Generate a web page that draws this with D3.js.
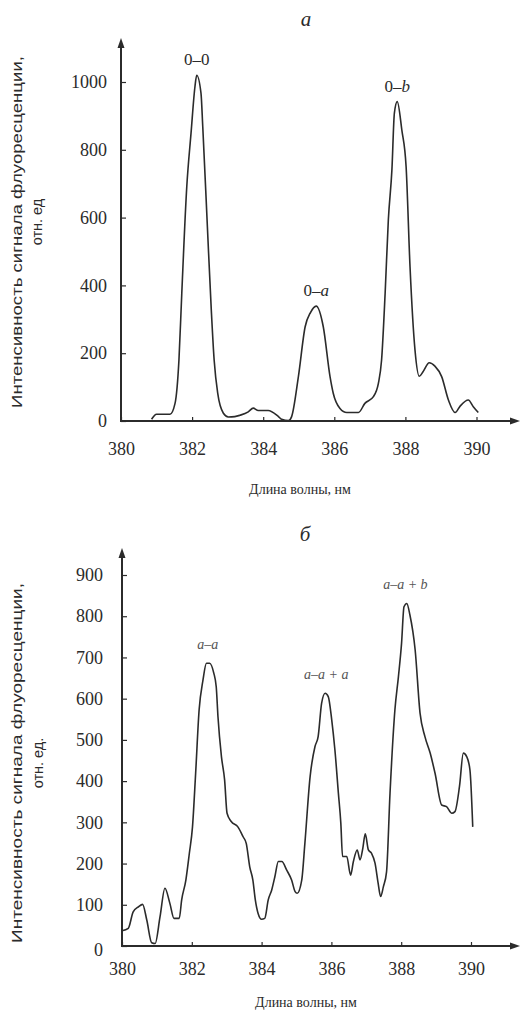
<!DOCTYPE html>
<html><head><meta charset="utf-8">
<script src="https://cdn.jsdelivr.net/npm/d3@7"></script>
<style>
html,body{margin:0;padding:0;background:#fff;}
svg{display:block;}
.serif{font-family:"Liberation Serif","Times New Roman","DejaVu Serif",serif;}
.sans{font-family:"Liberation Sans",Arial,"DejaVu Sans",sans-serif;}
</style></head>
<body>
<svg id="chart" width="521" height="1011"></svg>
<script>
// ---------- DATA ----------
const xTicks = [380, 382, 384, 386, 388, 390];
const topYTicks = [0, 200, 400, 600, 800, 1000];
const botYTicks = [0, 100, 200, 300, 400, 500, 600, 700, 800, 900];

// Panel a (top)
const topX = [380.86,381.0,381.38,381.52,381.63,381.71,381.85,381.97,382.08,382.13,382.25,382.30,382.43,382.54,382.62,382.72,382.88,383.02,383.2,383.35,383.58,383.72,383.86,384.14,384.43,384.52,384.71,384.8,384.99,385.18,385.33,385.49,385.69,385.88,385.97,386.16,386.35,386.68,386.86,387.1,387.24,387.33,387.43,387.52,387.62,387.69,387.77,387.9,388.02,388.13,388.27,388.39,388.5,388.67,388.83,389.02,389.21,389.4,389.54,389.77,389.91,390.05];
const topY = [5,20,20,52,180,377,691,849,986,1020,967,868,573,327,180,82,23,12,13,17,27,38,31,31,13,5,1,13,131,278,320,339,278,131,82,37,25,25,52,72,111,180,377,593,740,908,942,858,750,455,209,132,146,172,162,131,62,25,44,62,42,25];

// Panel б (bottom)
const botX = [380.0,380.18,380.32,380.47,380.59,380.71,380.85,380.95,381.09,381.23,381.37,381.49,381.64,381.71,381.83,381.93,382.02,382.11,382.21,382.32,382.42,382.51,382.63,382.7,382.75,382.85,382.94,383.01,383.13,383.32,383.47,383.56,383.66,383.75,383.82,383.9,384.0,384.09,384.19,384.29,384.38,384.48,384.58,384.72,384.86,384.96,385.02,385.15,385.24,385.39,385.53,385.62,385.72,385.82,385.91,386.01,386.1,386.2,386.27,386.32,386.44,386.55,386.63,386.74,386.82,386.9,386.97,387.06,387.15,387.25,387.34,387.41,387.49,387.58,387.68,387.82,387.92,388.01,388.08,388.16,388.25,388.4,388.54,388.68,388.83,388.97,389.16,389.3,389.45,389.54,389.67,389.78,389.88,389.97,390.05];
const botY = [37,43,83,95,101,63,8,6,71,140,104,67,67,112,160,225,289,419,573,645,686,686,662,629,556,459,403,322,302,289,265,249,192,160,112,79,65,67,112,136,168,205,205,184,160,132,128,160,249,411,484,508,589,613,605,548,476,371,298,217,217,172,205,233,209,237,272,233,225,201,152,120,144,180,371,573,653,734,823,831,803,718,565,508,468,419,342,338,322,326,387,468,459,427,289];

const panelTitles = ["а", "б"];
const xTitle = "Длина волны, нм";
const yTitleLine1 = "Интенсивность сигнала флуоресценции,";
const yTitleLine2 = ["отн. ед", "отн. ед."];
const topPeakLabels = [
  {pre: "0–", it: "", post: "0", x: 382.13, y: 1020},
  {pre: "0–", it: "a", post: "", x: 385.49, y: 339},
  {pre: "0–", it: "b", post: "", x: 387.77, y: 942}
];
const botPeakLabels = [
  {text: "a–a", x: 382.46, y: 686},
  {text: "a–a + a", x: 385.85, y: 613},
  {text: "a–a + b", x: 388.12, y: 831}
];

// ---------- DRAW ----------
const svg = d3.select("#chart");
const ink = "#2b2b2b";

function panel(cfg) {
  const x = d3.scaleLinear().domain([380, 390]).range(cfg.xr);
  const y = d3.scaleLinear().domain(cfg.yd).range(cfg.yr);
  const g = svg.append("g");

  const x0 = x(380), y0 = y(0);
  g.append("line").attr("x1", x0).attr("y1", y0 + 1).attr("x2", x0).attr("y2", cfg.arrowTop + 6)
    .attr("stroke", ink).attr("stroke-width", 2);
  g.append("path").attr("d", `M${x0},${cfg.arrowTop} L${x0 - 3.5},${cfg.arrowTop + 10} L${x0 + 3.5},${cfg.arrowTop + 10} Z`).attr("fill", ink);
  g.append("line").attr("x1", x0 - 1).attr("y1", y0).attr("x2", cfg.arrowRight - 6).attr("y2", y0)
    .attr("stroke", ink).attr("stroke-width", 2);
  g.append("path").attr("d", `M${cfg.arrowRight},${y0} L${cfg.arrowRight - 10},${y0 - 3.5} L${cfg.arrowRight - 10},${y0 + 3.5} Z`).attr("fill", ink);

  const ya = g.append("g").attr("transform", `translate(${x0},0)`)
    .call(d3.axisLeft(y).tickValues(cfg.yTicks).tickSizeInner(-5).tickSizeOuter(0).tickPadding(cfg.yPad).tickFormat(d3.format("d")));
  ya.attr("font-family", null);
  ya.select(".domain").remove();
  ya.selectAll("line").attr("stroke", ink).attr("stroke-width", 1.2);
  ya.selectAll("text").attr("class", "serif").attr("font-size", 18).attr("fill", ink)
    .attr("dy", d => d === 0 ? cfg.zeroDy : "0.32em");

  const xa = g.append("g").attr("transform", `translate(0,${y0})`)
    .call(d3.axisBottom(x).tickValues(xTicks).tickSizeInner(-4).tickSizeOuter(0).tickPadding(cfg.xPad).tickFormat(d3.format("d")));
  xa.attr("font-family", null);
  xa.select(".domain").remove();
  xa.selectAll("line").attr("stroke", ink).attr("stroke-width", 1.2);
  xa.selectAll("text").attr("class", "serif").attr("font-size", 18).attr("fill", ink);

  const line = d3.line().x((d, i) => x(cfg.xs[i])).y(d => y(d)).curve(d3.curveMonotoneX);
  g.append("path").datum(cfg.ys).attr("d", line).attr("fill", "none")
    .attr("stroke", ink).attr("stroke-width", 1.6).attr("stroke-linejoin", "round");

  g.append("text").attr("class", "serif").attr("x", cfg.titleX).attr("y", cfg.titleY).attr("text-anchor", "middle")
    .attr("font-style", "italic").attr("font-size", 21).attr("fill", ink).text(cfg.title);

  g.append("text").attr("class", "serif").attr("x", cfg.xTitleX).attr("y", cfg.xTitleY).attr("text-anchor", "middle")
    .attr("font-size", 14).attr("fill", ink).text(xTitle);

  g.append("text").attr("class", "sans").attr("transform", `translate(${cfg.yTitleX1},${cfg.yTitleC}) rotate(-90)`)
    .attr("text-anchor", "middle").attr("font-size", 14.5).attr("fill", ink)
    .attr("textLength", cfg.yTitleLen).attr("lengthAdjust", "spacingAndGlyphs").text(yTitleLine1);
  g.append("text").attr("class", "sans").attr("transform", `translate(${cfg.yTitleX2},${cfg.yTitleC2}) rotate(-90)`)
    .attr("text-anchor", "middle").attr("font-size", 14.5).attr("fill", ink)
    .text(cfg.yTitle2);

  return {g, x, y};
}

const A = panel({
  xr: [121, 476.5], yd: [0, 1000], yr: [421, 82], yTicks: topYTicks,
  arrowTop: 38, arrowRight: 520, yPad: 14, xPad: 21, zeroDy: "0.32em",
  xs: topX, ys: topY, title: panelTitles[0], titleX: 306, titleY: 26,
  xTitleX: 300, xTitleY: 494,
  yTitleX1: 22, yTitleC: 232, yTitleLen: 352, yTitleX2: 42, yTitleC2: 222, yTitle2: yTitleLine2[0]
});
topPeakLabels.forEach(p => {
  const t = A.g.append("text").attr("class", "serif").attr("x", A.x(p.x)).attr("y", A.y(p.y) - 10).attr("text-anchor", "middle")
    .attr("font-size", 17).attr("fill", ink);
  t.append("tspan").text(p.pre);
  if (p.it) t.append("tspan").attr("font-style", "italic").text(p.it);
  if (p.post) t.append("tspan").text(p.post);
});

const B = panel({
  xr: [122, 471], yd: [0, 900], yr: [946, 575], yTicks: botYTicks,
  arrowTop: 548, arrowRight: 520, yPad: 19, xPad: 16, zeroDy: "0.55em",
  xs: botX, ys: botY, title: panelTitles[1], titleX: 305, titleY: 541,
  xTitleX: 306, xTitleY: 1007,
  yTitleX1: 22, yTitleC: 763, yTitleLen: 360, yTitleX2: 43, yTitleC2: 763, yTitle2: yTitleLine2[1]
});
botPeakLabels.forEach(p => {
  B.g.append("text").attr("class", "serif").attr("x", B.x(p.x)).attr("y", B.y(p.y) - 14).attr("text-anchor", "middle")
    .attr("font-style", "italic").attr("font-size", 14).attr("fill", "#555")
    .text(p.text);
});
</script>
</body></html>
